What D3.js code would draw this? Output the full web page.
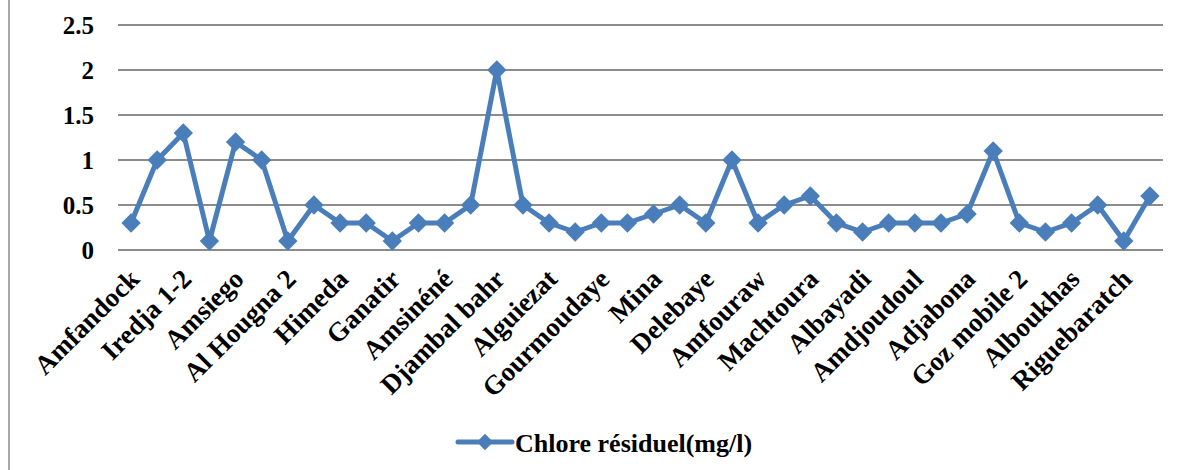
<!DOCTYPE html>
<html><head><meta charset="utf-8">
<script src="https://cdn.jsdelivr.net/npm/d3@7"></script>
<style>
html,body{margin:0;padding:0;background:#fff;}
</style></head>
<body>
<svg id="chart" width="1184" height="470"></svg>
<script>
// Categories (only every other one is labelled in the original chart)
const categories = [
  "Amfandock", "", "Iredja 1-2", "", "Amsiego", "", "Al Hougna 2", "", "Himeda", "",
  "Ganatir", "", "Amsinéné", "", "Djambal bahr", "", "Alguiezat", "", "Gourmoudaye", "",
  "Mina", "", "Delebaye", "", "Amfouraw", "", "Machtoura", "", "Albayadi", "",
  "Amdjoudoul", "", "Adjabona", "", "Goz mobile 2", "", "Alboukhas", "", "Riguebaratch", ""
];
const chlore = [
  0.3, 1.0, 1.3, 0.1, 1.2, 1.0, 0.1, 0.5, 0.3, 0.3,
  0.1, 0.3, 0.3, 0.5, 2.0, 0.5, 0.3, 0.2, 0.3, 0.3,
  0.4, 0.5, 0.3, 1.0, 0.3, 0.5, 0.6, 0.3, 0.2, 0.3,
  0.3, 0.3, 0.4, 1.1, 0.3, 0.2, 0.3, 0.5, 0.1, 0.6
];
const yTicks = [0, 0.5, 1, 1.5, 2, 2.5];
const seriesName = "Chlore résiduel(mg/l)";

const FONT = "'Liberation Serif', 'Times New Roman', Tinos, 'DejaVu Serif', serif";
const svg = d3.select("#chart");
const color = "#4a7ebb";
const plotL = 118, plotR = 1163, plotT = 25, plotB = 250;

// outer border (left edge visible)
svg.append("line").attr("x1", 9).attr("x2", 9).attr("y1", 0).attr("y2", 470)
  .attr("stroke", "#a6a6a6").attr("stroke-width", 2);

const idx = d3.range(categories.length);
const x = d3.scaleBand().domain(idx).range([plotL, plotR]);
const y = d3.scaleLinear().domain([0, 2.5]).range([plotB, plotT]);

// gridlines
svg.append("g").selectAll("line").data(yTicks).join("line")
  .attr("x1", plotL).attr("x2", plotR)
  .attr("y1", d => y(d)).attr("y2", d => y(d))
  .attr("stroke", "#8c8c8c").attr("stroke-width", 2);

// y axis labels
const yAxis = svg.append("g").attr("transform", `translate(${plotL - 24},0)`)
  .call(d3.axisLeft(y).tickValues(yTicks).tickSize(0).tickPadding(0).tickFormat(d3.format("")));
yAxis.attr("font-family", FONT).attr("font-size", 25).attr("font-weight", "bold");
yAxis.select(".domain").remove();
yAxis.selectAll("text").attr("fill", "#000");

// x axis labels
const xAxis = svg.append("g").attr("transform", `translate(0,${plotB})`)
  .call(d3.axisBottom(x).tickValues(idx.filter(i => categories[i] !== "")).tickSize(0)
    .tickFormat(i => categories[i]));
xAxis.attr("font-family", FONT).attr("font-size", 27).attr("font-weight", "bold");
xAxis.select(".domain").remove();
xAxis.selectAll(".tick text")
  .attr("fill", "#000")
  .attr("text-anchor", "end")
  .attr("y", 0).attr("dy", "0.35em")
  .attr("transform", "translate(3,24) rotate(-45)");

const cx = i => x(i) + x.bandwidth() / 2;

// line
const line = d3.line().x((d, i) => cx(i)).y(d => y(d));
svg.append("path").datum(chlore).attr("d", line)
  .attr("fill", "none").attr("stroke", color).attr("stroke-width", 5)
  .attr("stroke-linejoin", "round");

// markers
const diamond = d3.symbol().type(d3.symbolDiamond2).size(240);
svg.append("g").selectAll("path").data(chlore).join("path")
  .attr("d", diamond)
  .attr("transform", (d, i) => `translate(${cx(i)},${y(d)})`)
  .attr("fill", color);

// legend
const lg = svg.append("g");
lg.append("line").attr("x1", 458).attr("x2", 512).attr("y1", 442).attr("y2", 442)
  .attr("stroke", color).attr("stroke-width", 5).attr("stroke-linecap", "round");
lg.append("path").attr("d", d3.symbol().type(d3.symbolDiamond2).size(170))
  .attr("transform", "translate(485,442)").attr("fill", color);
lg.append("text").attr("x", 515).attr("y", 452)
  .attr("font-family", FONT).attr("font-size", 26).attr("font-weight", "bold").attr("fill", "#000")
  .text(seriesName);
</script>
</body></html>
